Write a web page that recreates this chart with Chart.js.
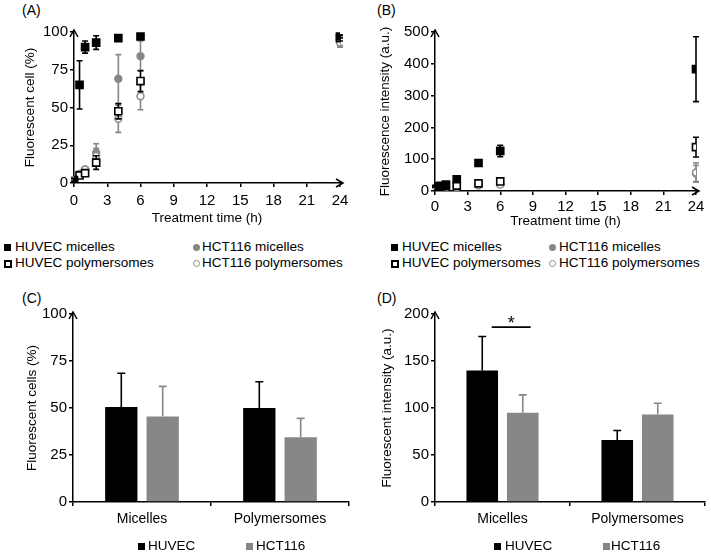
<!DOCTYPE html>
<html>
<head>
<meta charset="utf-8">
<script src="https://cdn.jsdelivr.net/npm/chart.js@4.4.0/dist/chart.umd.min.js"></script>
<style>
  body { margin: 0; background: #fff; font-family: "Liberation Sans", Arial, sans-serif; }
  #page { position: relative; width: 711px; height: 552px; overflow: hidden; }
  canvas { position: absolute; }
  .tag { position: absolute; font-size: 14px; line-height: 16px; color: #000; }
  .lg { position: absolute; font-size: 13.5px; line-height: 16px; color: #000; white-space: nowrap; }
  .mk { position: absolute; box-sizing: border-box; width: 7px; height: 7px; }
</style>
</head>
<body>
<div id="page">
  <div class="tag" style="left:22px;top:2px">(A)</div>
  <div class="tag" style="left:377px;top:2px">(B)</div>
  <div class="tag" style="left:22px;top:290px">(C)</div>
  <div class="tag" style="left:377px;top:290px">(D)</div>
  <canvas id="chartA" width="355" height="230" style="left:0;top:0"></canvas>
  <canvas id="chartB" width="356" height="233" style="left:355px;top:0"></canvas>
  <canvas id="chartC" width="355" height="272" style="left:0;top:280px"></canvas>
  <canvas id="chartD" width="356" height="272" style="left:355px;top:280px"></canvas>
</div>
<script>
// time points (h)
const timesH = [0, 0.5, 1, 2, 4, 6, 24];
const seriesNames = ['HUVEC micelles', 'HCT116 micelles', 'HUVEC polymersomes', 'HCT116 polymersomes'];

// (A) fluorescent cells (%)
const pctHuvecMic = [2, 65, 90, 93, 96, 97, 97];
const pctHuvecMicErr = [1, 16, 4, 4.5, 1, 1, 1];
const pctHctMic = [3, 6, 9, 20, 69, 84, 94];
const pctHctMicErr = [1, 1, 1.5, 6, 16, 10, 3];
const pctHuvecPoly = [2, 5, 6.5, 13.5, 47.5, 67.5, 96];
const pctHuvecPolyErr = [1, 1, 1.5, 4.5, 5, 7, 2];
const pctHctPoly = [3, 6, 9, 18, 42.5, 57.5, 93];
const pctHctPolyErr = [1, 1, 1.5, 5, 9, 9, 3];

// (B) fluorescence intensity (a.u.)
const intHuvecMic = [15, 16, 20, 37, 88, 126, 383];
const intHuvecMicErr = [3, 3, 4, 6, 8, 18, 102];
const intHctMic = [12, 12, 14, 14, 20, 25, 55];
const intHctMicErr = [2, 2, 2, 3, 4, 5, 25];
const intHuvecPoly = [14, 14, 16, 17, 24, 30, 138];
const intHuvecPolyErr = [2, 2, 2, 3, 4, 4, 31];
const intHctPoly = [11, 11, 12, 12, 17, 20, 58];
const intHctPolyErr = [2, 2, 2, 2, 3, 4, 30];

// (C) and (D)
const carriers = ['Micelles', 'Polymersomes'];
const cellLines = ['HUVEC', 'HCT116'];
const cellsHuvec = [50.5, 50];
const cellsHuvecErr = [18, 14];
const cellsHct = [45.5, 34.5];
const cellsHctErr = [16, 10];
const intensHuvec = [140, 66];
const intensHuvecErr = [36, 10];
const intensHct = [95, 93];
const intensHctErr = [19, 12];
const sigLevel = 186;

const BLACK = '#000';
const GREY = '#878787';

Chart.defaults.font.family = '"Liberation Sans", Arial, sans-serif';
Chart.defaults.color = BLACK;

// vertical error bars, drawn from ds.errors through the y scale
function drawErrors(chart, i, upOnly) {
    const ds = chart.data.datasets[i];
    if (!ds.errors) return;
    const meta = chart.getDatasetMeta(i);
    const yScale = chart.scales[meta.yAxisID];
    const ctx = chart.ctx;
    ctx.save();
    ctx.strokeStyle = ds.errorColor;
    ctx.lineWidth = 1.6;
    meta.data.forEach((el, j) => {
        const raw = ds.data[j];
        const v = typeof raw === 'object' ? raw.y : raw;
        const e = ds.errors[j];
        const top = yScale.getPixelForValue(v + e);
        const bot = upOnly ? el.y : yScale.getPixelForValue(v - e);
        const cap = upOnly ? 4 : 3;
        ctx.beginPath();
        ctx.moveTo(el.x, bot);
        ctx.lineTo(el.x, top);
        ctx.moveTo(el.x - cap, top);
        ctx.lineTo(el.x + cap, top);
        if (!upOnly) {
            ctx.moveTo(el.x - cap, bot);
            ctx.lineTo(el.x + cap, bot);
        }
        ctx.stroke();
    });
    ctx.restore();
}

const errorBars = {
    id: 'errorBars',
    beforeDatasetDraw(chart, args) {
        if (chart.config.type === 'scatter') drawErrors(chart, args.index, false);
    },
    afterDatasetsDraw(chart) {
        if (chart.config.type === 'bar') {
            chart.data.datasets.forEach((ds, i) => drawErrors(chart, i, true));
        }
    }
};

const axisArrows = {
    id: 'axisArrows',
    afterDraw(chart, args, opts) {
        const {ctx, chartArea: a} = chart;
        ctx.save();
        ctx.strokeStyle = BLACK;
        ctx.lineWidth = 1.5;
        ctx.beginPath();
        ctx.moveTo(a.left, a.top);
        ctx.lineTo(a.left, a.top - 2);
        ctx.moveTo(a.left - 4, a.top + 5);
        ctx.lineTo(a.left, a.top - 2);
        ctx.lineTo(a.left + 4, a.top + 5);
        if (opts.x) {
            ctx.moveTo(a.right, a.bottom);
            ctx.lineTo(a.right + 3, a.bottom);
            ctx.moveTo(a.right - 4, a.bottom - 4);
            ctx.lineTo(a.right + 3, a.bottom);
            ctx.lineTo(a.right - 4, a.bottom + 4);
        }
        ctx.stroke();
        ctx.restore();
    }
};

const significance = {
    id: 'significance',
    afterDatasetsDraw(chart, args, opts) {
        if (opts.level === undefined) return;
        const b0 = chart.getDatasetMeta(0).data[0];
        const b1 = chart.getDatasetMeta(1).data[0];
        const y = chart.scales.y.getPixelForValue(opts.level);
        const x1 = b0.x + b0.width * 0.3;
        const x2 = b1.x + b1.width * 0.25;
        const ctx = chart.ctx;
        ctx.save();
        ctx.strokeStyle = BLACK;
        ctx.lineWidth = 1.6;
        ctx.beginPath();
        ctx.moveTo(x1, y);
        ctx.lineTo(x2, y);
        ctx.stroke();
        ctx.fillStyle = BLACK;
        ctx.font = '18px "Liberation Sans", Arial, sans-serif';
        ctx.textAlign = 'center';
        ctx.textBaseline = 'alphabetic';
        ctx.fillText('*', (x1 + x2) / 2, y + 2);
        ctx.restore();
    }
};

function axisStyle(extra) {
    return Object.assign({
        grid: {drawOnChartArea: false, drawTicks: true, tickLength: 4, color: BLACK, lineWidth: 1.5},
        border: {color: BLACK, width: 1.5}
    }, extra);
}

const markerStyles = [
    {pointStyle: 'rect', pointRadius: 5, backgroundColor: BLACK, borderColor: BLACK, errorColor: BLACK},
    {pointStyle: 'circle', pointRadius: 3.4, backgroundColor: GREY, borderColor: GREY, errorColor: GREY},
    {pointStyle: 'rect', pointRadius: 5, backgroundColor: '#fff', borderColor: BLACK, errorColor: BLACK},
    {pointStyle: 'circle', pointRadius: 3.4, backgroundColor: '#fff', borderColor: '#8e8e8e', errorColor: GREY}
];

function scatterChart(id, values, errors, yMax, yStep, yTitle, yWidth, xHeight, xPad) {
    // draw order: HUVEC micelles on top, HCT116 micelles at the bottom
    const drawOrder = [0, 3, 1, 2];
    const datasets = values.map((vals, k) => Object.assign({
        label: seriesNames[k],
        data: timesH.map((t, i) => ({x: t, y: vals[i]})),
        errors: errors[k],
        borderWidth: 1.6,
        order: drawOrder[k]
    }, markerStyles[k]));
    return new Chart(document.getElementById(id), {
        type: 'scatter',
        data: {datasets},
        plugins: [errorBars, axisArrows],
        options: {
            responsive: false,
            animation: false,
            layout: {padding: {left: 18, right: 15, top: 32, bottom: 0}},
            plugins: {legend: {display: false}, tooltip: {enabled: false}, axisArrows: {x: true}},
            scales: {
                x: axisStyle({
                    type: 'linear', min: 0, max: 24,
                    ticks: {stepSize: 3, font: {size: 15}, padding: xPad, color: BLACK},
                    title: {display: true, text: 'Treatment time (h)', font: {size: 13.5}, color: BLACK, padding: {top: 0, bottom: 4}},
                    afterFit: s => { s.height = xHeight; }
                }),
                y: axisStyle({
                    min: 0, max: yMax,
                    ticks: {stepSize: yStep, font: {size: 15}, padding: 2, color: BLACK},
                    title: {display: true, text: yTitle, font: {size: 13.5}, color: BLACK, padding: {top: 4, bottom: 0}},
                    afterFit: s => { s.width = yWidth; }
                })
            }
        }
    });
}

function barChart(id, huvec, huvecErr, hct, hctErr, yMax, yStep, yTitle, yWidth, sig) {
    return new Chart(document.getElementById(id), {
        type: 'bar',
        data: {
            labels: carriers,
            datasets: [
                {label: cellLines[0], data: huvec, errors: huvecErr, backgroundColor: BLACK, errorColor: BLACK},
                {label: cellLines[1], data: hct, errors: hctErr, backgroundColor: GREY, errorColor: GREY}
            ]
        },
        plugins: [errorBars, axisArrows, significance],
        options: {
            responsive: false,
            animation: false,
            categoryPercentage: 0.6,
            barPercentage: 0.78,
            layout: {padding: {left: 20, right: 6, top: 34, bottom: 20}},
            plugins: {legend: {display: false}, tooltip: {enabled: false}, axisArrows: {x: false}, significance: {level: sig}},
            scales: {
                x: axisStyle({
                    ticks: {font: {size: 14}, padding: 5, color: BLACK},
                    afterFit: s => { s.height = 30; }
                }),
                y: axisStyle({
                    min: 0, max: yMax,
                    ticks: {stepSize: yStep, font: {size: 15}, padding: 2, color: BLACK},
                    title: {display: true, text: yTitle, font: {size: 13.5}, color: BLACK, padding: {top: 4, bottom: 0}},
                    afterFit: s => { s.width = yWidth; }
                })
            }
        }
    });
}

scatterChart('chartA',
    [pctHuvecMic, pctHctMic, pctHuvecPoly, pctHctPoly],
    [pctHuvecMicErr, pctHctMicErr, pctHuvecPolyErr, pctHctPolyErr],
    100, 25, 'Fluorescent cell (%)', 56, 47, 5);

scatterChart('chartB',
    [intHuvecMic, intHctMic, intHuvecPoly, intHctPoly],
    [intHuvecMicErr, intHctMicErr, intHuvecPolyErr, intHctPolyErr],
    500, 100, 'Fluorescence intensity (a.u.)', 62, 42, 3);

barChart('chartC', cellsHuvec, cellsHuvecErr, cellsHct, cellsHctErr,
    100, 25, 'Fluorescent cells (%)', 53);

barChart('chartD', intensHuvec, intensHuvecErr, intensHct, intensHctErr,
    200, 50, 'Fluorescent intensity (a.u.)', 60, sigLevel);

// HTML legends
const page = document.getElementById('page');
const markerCss = [
    'background:#000',
    'background:' + GREY + ';border-radius:50%',
    'background:#fff;border:2px solid #000;width:8px;height:8px',
    'background:#fff;border:1.5px solid #8e8e8e;border-radius:50%'
];
function legendItem(mx, tx, cy, css, text) {
    const m = document.createElement('div');
    m.className = 'mk';
    m.style.cssText = 'left:' + mx + 'px;top:' + (cy - 3.5) + 'px;' + css;
    page.appendChild(m);
    const t = document.createElement('div');
    t.className = 'lg';
    t.style.left = tx + 'px';
    t.style.top = (cy - 8) + 'px';
    t.textContent = text;
    page.appendChild(t);
}
[[4, 15, 193, 202], [391, 402, 549, 559]].forEach(c => {
    legendItem(c[0], c[1], 247, markerCss[0], seriesNames[0]);
    legendItem(c[2], c[3], 247, markerCss[1], seriesNames[1]);
    legendItem(c[0], c[1], 263, markerCss[2], seriesNames[2]);
    legendItem(c[2], c[3], 263, markerCss[3], seriesNames[3]);
});
[[138, 148, 246, 256], [494, 505, 603, 611]].forEach(c => {
    legendItem(c[0], c[1], 546, markerCss[0], cellLines[0]);
    legendItem(c[2], c[3], 546, 'background:' + GREY, cellLines[1]);
});
</script>
</body>
</html>
